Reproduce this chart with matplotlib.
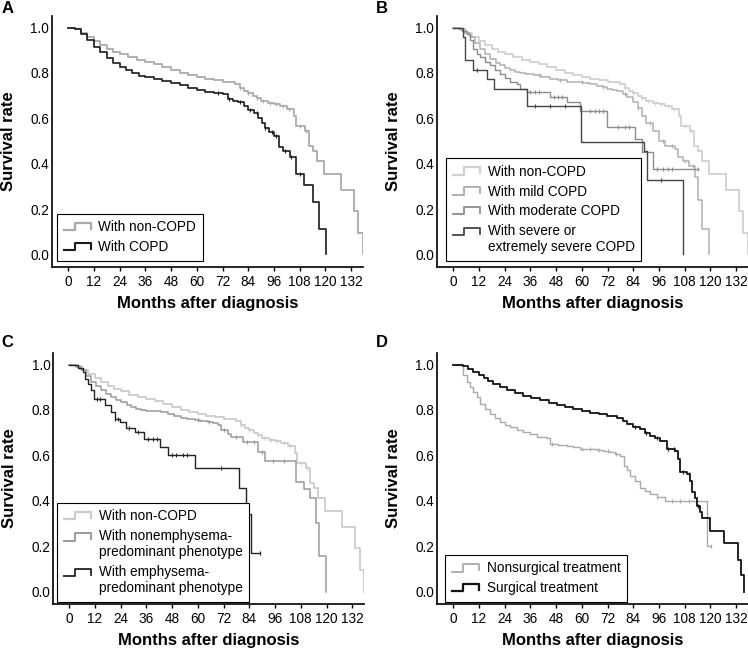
import numpy as np
import matplotlib
matplotlib.use("Agg")
import matplotlib.pyplot as plt
from matplotlib.lines import Line2D
from matplotlib.legend_handler import HandlerBase

plt.rcParams["font.family"] = ["Liberation Sans", "DejaVu Sans"]

# ---- data (months, survival) ----
# non-COPD group (same curve in A, B and C)
nc_t = [0, 3, 6, 9, 12, 15, 18, 21, 24, 28, 32, 36, 40, 44, 48, 52, 56, 60, 64, 68,
        72, 76, 78, 80, 82, 84, 86, 88, 90, 93, 96, 99, 102, 105.4, 106.2, 110.4,
        112.5, 114.3, 115.9, 119.4, 127.3, 133.2, 135.4, 137.4]
nc_s = [1.0, 0.993, 0.978, 0.958, 0.94, 0.923, 0.907, 0.893, 0.882, 0.868, 0.856, 0.848,
        0.838, 0.826, 0.815, 0.8, 0.79, 0.782, 0.775, 0.767, 0.762, 0.758, 0.75, 0.735,
        0.722, 0.71, 0.7, 0.688, 0.675, 0.668, 0.664, 0.655, 0.641, 0.612, 0.568, 0.545,
        0.48, 0.458, 0.414, 0.355, 0.285, 0.19, 0.093, 0.0]
nc_c = [80, 84, 88, 91, 94, 97, 100, 103, 108, 111]

# A: COPD
copd_t = [0, 3, 6, 9, 12, 15, 18, 21, 24, 27, 30, 33, 36, 40, 44, 48, 52, 56, 60, 64,
          68, 72, 74.6, 77, 79.3, 82, 84, 86.5, 88.6, 90.5, 92, 93.5, 96, 98.4, 100.3,
          103.3, 106.3, 110, 114, 117, 120.4]
copd_s = [1.0, 0.995, 0.972, 0.943, 0.915, 0.89, 0.866, 0.845, 0.828, 0.815, 0.8, 0.788,
          0.78, 0.772, 0.765, 0.757, 0.745, 0.733, 0.725, 0.718, 0.712, 0.705, 0.686,
          0.678, 0.671, 0.655, 0.638, 0.622, 0.6, 0.578, 0.556, 0.54, 0.522, 0.473,
          0.458, 0.429, 0.356, 0.305, 0.231, 0.114, 0.0]
copd_c = [70, 75, 80, 85, 88, 92, 95, 97, 101, 104, 108]

# B: mild COPD
mild_t = [0, 3, 5, 7.9, 10, 12.6, 15, 17.3, 20, 21.9, 24, 26.6, 29, 31.3, 34, 37.5, 41,
          45.3, 49, 53, 57, 60.8, 64, 67, 70, 71.7, 74, 76.4, 79, 81, 84.1, 86, 88, 90,
          93, 96, 99, 103.5, 105, 107.4, 110, 112.9, 114.4, 116, 119.5]
mild_s = [1.0, 0.99, 0.975, 0.957, 0.93, 0.906, 0.882, 0.862, 0.845, 0.833, 0.823, 0.811,
          0.804, 0.799, 0.795, 0.789, 0.782, 0.774, 0.768, 0.762, 0.758, 0.755, 0.75,
          0.744, 0.736, 0.73, 0.725, 0.719, 0.705, 0.693, 0.671, 0.645, 0.61, 0.58,
          0.545, 0.5, 0.48, 0.465, 0.43, 0.414, 0.39, 0.341, 0.238, 0.113, 0.0]
mild_c = [40, 50, 60, 70, 80, 86, 92, 98, 102, 108, 112]

# B: moderate COPD
mod_t = [0, 4, 6.4, 7.9, 9.5, 11, 12.6, 15, 17.3, 19.5, 21.9, 24, 26.6, 29.7, 31.3, 34.7,
         45.3, 53, 59.3, 71.7, 85, 88, 93.3, 114.3]
mod_s = [1.0, 0.985, 0.972, 0.943, 0.906, 0.885, 0.869, 0.85, 0.833, 0.815, 0.796, 0.778,
         0.759, 0.752, 0.73, 0.715, 0.696, 0.671, 0.634, 0.561, 0.51, 0.451, 0.377, 0.377]
mod_c = [36, 38, 40, 47, 49, 51, 64, 66, 68, 70, 77, 80, 82, 95, 98, 100, 102, 114.3]

# B: severe or extremely severe COPD
sev_t = [0, 4.5, 5.5, 9.5, 15.7, 19.3, 34.4, 59.6, 89, 90.5, 107]
sev_s = [1.0, 0.96, 0.855, 0.813, 0.773, 0.73, 0.656, 0.495, 0.455, 0.33, 0.0]
sev_c = [11, 38, 45, 52, 97]

# C: nonemphysema-predominant phenotype
nonemph_t = [0, 3, 5.6, 8, 10.3, 12.5, 14.9, 17, 19.6, 22, 24.3, 27, 28.9, 31, 33.6, 36,
             39.8, 43, 46, 49, 52.3, 55, 58.5, 61, 64.7, 67, 69.4, 70.9, 74, 75.6, 81,
             88, 91.4, 105.9, 109.5, 112.1, 115.2, 116.5, 119.8]
nonemph_s = [1.0, 0.99, 0.975, 0.95, 0.923, 0.905, 0.887, 0.872, 0.857, 0.846, 0.835,
             0.822, 0.813, 0.805, 0.798, 0.796, 0.794, 0.789, 0.783, 0.773, 0.764, 0.759,
             0.754, 0.751, 0.749, 0.742, 0.735, 0.71, 0.696, 0.681, 0.659, 0.615, 0.577,
             0.481, 0.45, 0.414, 0.304, 0.158, 0.0]
nonemph_c = [60, 65, 72, 78, 83, 86, 90, 95, 100]

# C: emphysema-predominant phenotype
emph_t = [0, 4, 6.4, 7.5, 8.7, 10.3, 11.8, 16.5, 19.6, 21.2, 23.5, 26.6, 30.5, 34.8,
          42.6, 46, 58.5, 79, 82.6, 84.9, 88.8]
emph_s = [1.0, 0.985, 0.968, 0.938, 0.916, 0.887, 0.85, 0.82, 0.79, 0.761, 0.746, 0.72,
          0.703, 0.673, 0.637, 0.6, 0.543, 0.454, 0.341, 0.171, 0.171]
emph_c = [13, 14.5, 21.5, 23, 28, 32, 37, 39, 41, 48, 50, 53, 55, 71, 83.5, 88.8]

# D: nonsurgical treatment
nons_t = [0, 3.3, 4.8, 6.4, 8, 9.5, 11, 12.6, 15, 17.3, 19.6, 21.9, 24, 26.6, 29.7,
          32.8, 36, 39, 43.7, 45.3, 49, 53, 56, 59.3, 63, 67, 70, 73.3, 75.5, 77.9,
          79.5, 81, 82.6, 85, 87.2, 89.5, 91.9, 95, 98.9, 118.4, 120.2]
nons_s = [1.0, 0.997, 0.953, 0.923, 0.9, 0.879, 0.855, 0.828, 0.805, 0.783, 0.763,
          0.746, 0.735, 0.724, 0.713, 0.705, 0.692, 0.68, 0.676, 0.651, 0.646, 0.643,
          0.636, 0.628, 0.626, 0.625, 0.62, 0.614, 0.607, 0.599, 0.555, 0.535, 0.511,
          0.485, 0.458, 0.445, 0.429, 0.415, 0.4, 0.2, 0.2]
nons_c = [46, 60, 64, 68, 72, 76, 95, 102, 106, 110, 120.2]

# D: surgical treatment
surg_t = [0, 4.8, 7, 9.5, 12, 14.2, 16.5, 18.8, 22, 25, 29, 32.8, 36.5, 40.6, 44.5,
          48.4, 52, 56.1, 60, 63.9, 68, 71.7, 76.4, 79, 81, 84, 87.2, 89.5, 91.9, 94,
          96.6, 99.7, 103.6, 104.7, 105.6, 109, 110.6, 111.4, 112.9, 113.7, 115.2, 116,
          119.6, 126.4, 132.7, 134.2, 135.8]
surg_s = [1.0, 0.994, 0.982, 0.968, 0.955, 0.941, 0.928, 0.916, 0.9, 0.887, 0.873,
          0.861, 0.851, 0.842, 0.831, 0.82, 0.812, 0.805, 0.796, 0.788, 0.78, 0.773,
          0.766, 0.752, 0.739, 0.727, 0.714, 0.7, 0.687, 0.675, 0.661, 0.628, 0.621,
          0.584, 0.525, 0.516, 0.487, 0.437, 0.414, 0.378, 0.351, 0.326, 0.267, 0.214,
          0.14, 0.074, 0.0]
surg_c = [85, 90, 95, 100, 103, 107, 110, 114]


class StepHandler(HandlerBase):
    """Little step-shaped legend key, optionally lifted to the first text line."""

    def __init__(self, lift=0.0):
        super().__init__()
        self.lift = lift

    def create_artists(self, legend, orig_handle, xdescent, ydescent, width, height,
                       fontsize, trans):
        x0 = -xdescent
        lo = -ydescent + 0.1 * height + self.lift * fontsize
        hi = -ydescent + 0.9 * height + self.lift * fontsize
        xs = [x0, x0 + 0.42 * width, x0 + 0.42 * width, x0 + width, x0 + width]
        ys = [lo, lo, hi, hi, lo + 0.15 * height]
        line = Line2D(xs, ys, color=orig_handle.get_color(),
                      lw=orig_handle.get_linewidth() + 0.3, transform=trans)
        return [line]


def km(ax, t, s, cens, color, lw, label):
    line, = ax.step(t, s, where="post", color=color, lw=lw, label=label)
    idx = np.searchsorted(t, cens, side="right") - 1
    ax.plot(cens, np.asarray(s)[idx], ls="none", marker="|", ms=3.5, mew=0.8,
            color=color)
    return line


def style(ax):
    ax.set_xlim(-7.5, 137.5)
    ax.set_ylim(-0.055, 1.051)
    ax.set_xticks(range(0, 133, 12))
    ax.set_yticks(np.arange(0, 1.01, 0.2))
    ax.yaxis.set_major_formatter("{x:.1f}")
    for sp in ["top", "right"]:
        ax.spines[sp].set_visible(False)
    for sp in ["left", "bottom"]:
        ax.spines[sp].set_linewidth(1.2)
    ax.tick_params(axis="x", length=3, width=1, pad=3, labelsize=9.8)
    ax.tick_params(axis="y", length=0, pad=2, labelsize=9.8)
    ax.set_xlabel("Months after diagnosis", fontsize=12, fontweight="bold")
    ax.set_ylabel("Survival rate", fontsize=12, fontweight="bold")
    ax.xaxis.set_label_coords(0.5, -0.116)
    ax.yaxis.set_label_coords(-0.115, 0.5)


def legend(ax, handles, labels, anchor, lifts):
    hmap = {h: StepHandler(lf) for h, lf in zip(handles, lifts)}
    leg = ax.legend(handles, labels, loc="lower left", bbox_to_anchor=anchor,
                    borderaxespad=0, fontsize=9.8, frameon=True, fancybox=False,
                    edgecolor="black", framealpha=1, handlelength=2.0,
                    handletextpad=0.55, labelspacing=0.42, borderpad=0.5,
                    handler_map=hmap)
    leg.get_frame().set_linewidth(0.8)


fig = plt.figure(figsize=(7.48, 6.51), dpi=100)
axA = fig.add_axes([0.0695, 0.5899, 0.4158, 0.3856])
axB = fig.add_axes([0.5842, 0.5899, 0.4158, 0.3856])
axC = fig.add_axes([0.0709, 0.0722, 0.4158, 0.3856])
axD = fig.add_axes([0.5842, 0.0722, 0.4158, 0.3856])

# A
h1 = km(axA, nc_t, nc_s, nc_c, "#aaaaaa", 1.3, "With non-COPD")
h2 = km(axA, copd_t, copd_s, copd_c, "#1a1a1a", 1.2, "With COPD")
style(axA)
legend(axA, [h1, h2], ["With non-COPD", "With COPD"], (0.016, 0.024), [0, 0])

# B
h1 = km(axB, nc_t, nc_s, nc_c, "#d0d0d0", 1.3, "With non-COPD")
h2 = km(axB, mild_t, mild_s, mild_c, "#b0b0b0", 1.1, "With mild COPD")
h3 = km(axB, mod_t, mod_s, mod_c, "#8c8c8c", 1.0, "With moderate COPD")
h4 = km(axB, sev_t, sev_s, sev_c, "#454545", 1.0, "With severe or")
style(axB)
legend(axB, [h1, h2, h3, h4],
       ["With non-COPD", "With mild COPD", "With moderate COPD",
        "With severe or\nextremely severe COPD"], (0.029, 0.024), [0, 0, 0, 0.6])

# C
h1 = km(axC, nc_t, nc_s, nc_c, "#cccccc", 1.3, "With non-COPD")
h2 = km(axC, nonemph_t, nonemph_s, nonemph_c, "#9a9a9a", 1.1, "nonemph")
h3 = km(axC, emph_t, emph_s, emph_c, "#222222", 1.0, "emph")
style(axC)
legend(axC, [h1, h2, h3],
       ["With non-COPD", "With nonemphysema-\npredominant phenotype",
        "With emphysema-\npredominant phenotype"], (0.013, 0.008), [0, 0.6, 0.6])

# D
h1 = km(axD, nons_t, nons_s, nons_c, "#aaaaaa", 1.0, "Nonsurgical treatment")
h2 = km(axD, surg_t, surg_s, surg_c, "#111111", 1.3, "Surgical treatment")
style(axD)
legend(axD, [h1, h2], ["Nonsurgical treatment", "Surgical treatment"],
       (0.026, 0.008), [0, 0])

for x, y, letter in [(0.002, 0.998, "A"), (0.503, 0.998, "B"),
                     (0.002, 0.486, "C"), (0.503, 0.486, "D")]:
    fig.text(x, y, letter, fontsize=12, fontweight="bold", va="top", ha="left")

fig.savefig("out.png", dpi=100)
